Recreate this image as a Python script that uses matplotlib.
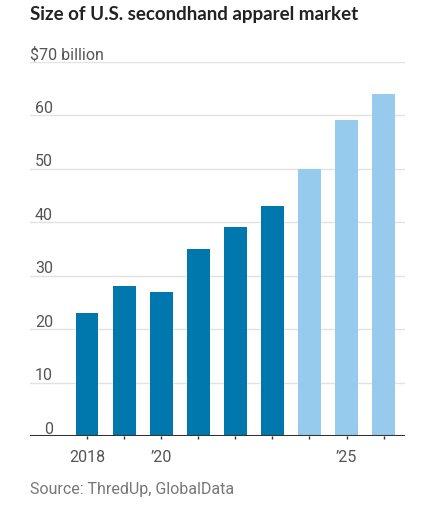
import matplotlib
matplotlib.use("Agg")
import matplotlib.pyplot as plt
from matplotlib import font_manager

years = [2018, 2019, 2020, 2021, 2022, 2023, 2024, 2025, 2026]
values = [23, 28, 27, 35, 39, 43, 50, 59, 64]
is_forecast = [False, False, False, False, False, False, True, True, True]
xtick_labels = {2018: "2018", 2020: "\u201920", 2025: "\u201925"}
ytick_values = [0, 10, 20, 30, 40, 50, 60, 70]
ytick_labels = ["0", "10", "20", "30", "40", "50", "60", "$70 billion"]
title = "Size of U.S. secondhand apparel market"
source = "Source: ThredUp, GlobalData"

DARK = "#0077ad"
LIGHT = "#96cbee"
GRID = "#e2e2e2"
TXT = "#555555"

names = {f.name for f in font_manager.fontManager.ttflist}
narrow = ["Liberation Sans Narrow", "Roboto", "DejaVu Sans"]
narrow = [n for n in narrow if n in names] or ["DejaVu Sans"]

W, H = 423, 510
PX = 0.72  # points per pixel at dpi 100
fig = plt.figure(figsize=(W / 100, H / 100), dpi=100)
left, right = 30, 405
top, bottom = 62.5, 437
ax = fig.add_axes([left / W, 1 - bottom / H, (right - left) / W, (bottom - top) / H])

colors = [LIGHT if f else DARK for f in is_forecast]
ax.bar(years, values, width=0.6, color=colors, zorder=2)
ax.set_xlim(2016.45, 2026.58)
ax.set_ylim(0, 70)

for v in ytick_values[1:]:
    ax.axhline(v, color=GRID, lw=1, zorder=1)
ax.axhline(0, color="#333333", lw=1.5, zorder=3)

for s in ax.spines.values():
    s.set_visible(False)

ax.set_yticks([])
ax.set_xticks(years)
ax.set_xticklabels([xtick_labels.get(y, "") for y in years], fontfamily=narrow, fontsize=11.5, color=TXT)
ax.tick_params(axis="x", length=3 * PX, width=1, color="#333333", pad=7)

tr = ax.get_yaxis_transform()
for v, lab in zip(ytick_values, ytick_labels):
    if v == 70:
        x, ha = 0.0, "left"
    else:
        x, ha = (53 - left) / (right - left), "right"
    ax.annotate(lab, xy=(x, v), xycoords=tr, xytext=(0, 3 * PX), textcoords="offset points",
                ha=ha, va="baseline", fontfamily=narrow, fontsize=11.5, color=TXT)

fig.text(left / W, 1 - 20 / H, title, ha="left", va="baseline",
         fontfamily=["Lato", "DejaVu Sans"], fontweight="bold", fontsize=13.5, color="#222222")
fig.text(left / W, 1 - 494 / H, source, ha="left", va="baseline",
         fontfamily=narrow, fontsize=11.5, color="#777777")

fig.savefig("out.png", dpi=100)
